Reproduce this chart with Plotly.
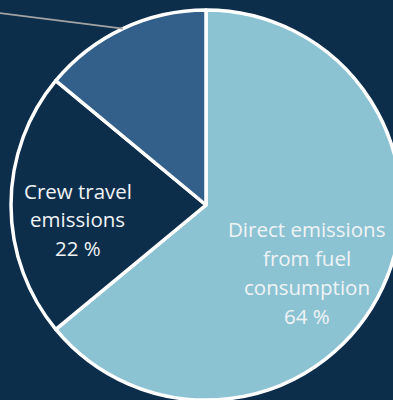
import numpy as np
import plotly.graph_objects as go

# Emission sources and their shares (%)
labels = ["Direct emissions<br>from fuel<br>consumption", "Crew travel<br>emissions", "Other emissions"]
values = [64, 22, 14]
colors = ["#8cc3d3", "#0d2e4b", "#33608a"]

BG = "#0d2e4b"
W, H = 410, 400
CX, CY, R = 206, 205, 195  # pie centre and radius in pixels
FONT = dict(family="Open Sans", size=20.5, color="#f0f3f5")
LINE_GAP = 28.8  # px between label lines

# label placement per slice: fraction of radius and angular nudge (deg)
label_r = [0.622, 0.663, None]
label_nudge = [8.6, -6.4, 0.0]

fig = go.Figure(
    go.Pie(
        labels=labels,
        values=values,
        textinfo="none",
        sort=False,
        direction="clockwise",
        rotation=0,
        marker=dict(colors=colors, line=dict(color="white", width=3.5)),
        hoverinfo="skip",
        domain=dict(x=[(CX - R) / W, (CX + R) / W], y=[(H - CY - R) / H, (H - CY + R) / H]),
        showlegend=False,
    )
)

frac = np.array(values, dtype=float) / np.sum(values)
ends = np.cumsum(frac)
mids = (ends - frac / 2) * 360.0


def polar_px(ang_deg, r):
    a = np.radians(ang_deg)
    return CX + r * np.sin(a), CY - r * np.cos(a)


# Inside labels for the two large slices, one annotation per text line
for lab, val, rf, nd, m in zip(labels, values, label_r, label_nudge, mids):
    if rf is None:
        continue
    px, py = polar_px(m + nd, rf * R)
    lines = lab.split("<br>") + [f"{val} %"]
    n = len(lines)
    for i, ln in enumerate(lines):
        ly = py + (i - (n - 1) / 2) * LINE_GAP
        fig.add_annotation(
            x=px / W, y=1 - ly / H, xref="paper", yref="paper",
            text=ln, showarrow=False, font=FONT,
            xanchor="center", yanchor="middle", align="center",
        )

# Leader line for the small slice, from its rim mid-point out past the left edge
x0, y0 = polar_px(mids[2], R)
x1, y1 = x0 - 150, y0 - 150 * 0.125
fig.add_shape(
    type="line", xref="paper", yref="paper",
    x0=x0 / W, y0=1 - y0 / H, x1=x1 / W, y1=1 - y1 / H,
    line=dict(color="#a3a3a3", width=1.8),
)

fig.update_layout(
    width=W, height=H,
    margin=dict(l=0, r=0, t=0, b=0),
    paper_bgcolor=BG, plot_bgcolor=BG,
)

fig.write_html("out.html", post_script="document.body.style.overflow='hidden';")
